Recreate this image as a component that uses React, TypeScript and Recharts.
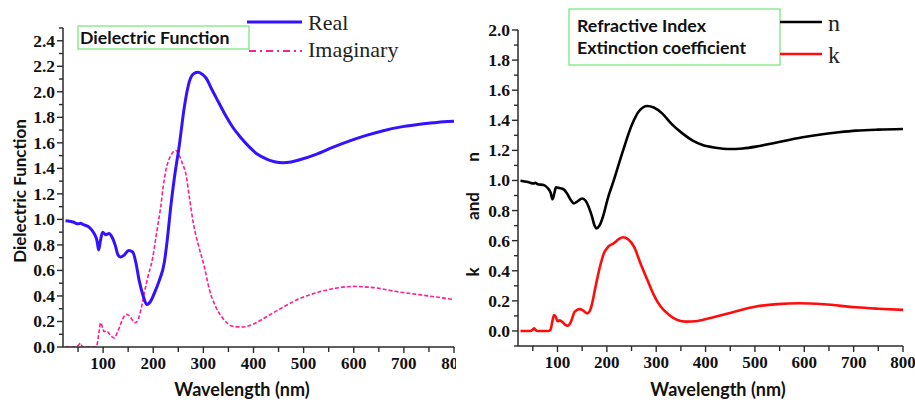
import React from 'react';
import { LineChart, Line, XAxis, YAxis } from 'recharts';

// ---------- Left panel: dielectric function ----------
const realWl = [25, 40, 50, 55, 60, 72, 82, 88, 91, 95, 99, 105, 112, 118, 124, 130, 135, 142, 151, 159, 166, 172, 180, 187, 195, 202, 212, 222, 228, 235, 242, 252, 262, 272, 282, 289, 297, 305, 318, 332, 345, 359, 375, 392, 408, 425, 442, 459, 475, 492, 525, 559, 592, 625, 659, 692, 725, 759, 780, 800];
const realVals = [0.99, 0.98, 0.965, 0.97, 0.96, 0.94, 0.89, 0.83, 0.76, 0.84, 0.9, 0.88, 0.89, 0.86, 0.8, 0.72, 0.705, 0.72, 0.757, 0.745, 0.65, 0.52, 0.4, 0.334, 0.36, 0.42, 0.52, 0.66, 0.84, 1.1, 1.32, 1.58, 1.88, 2.08, 2.145, 2.153, 2.14, 2.11, 2.01, 1.906, 1.81, 1.72, 1.64, 1.566, 1.51, 1.475, 1.452, 1.444, 1.45, 1.467, 1.51, 1.566, 1.615, 1.658, 1.695, 1.723, 1.742, 1.757, 1.765, 1.77];

const imagWl = [25, 45, 50, 55, 58, 62, 85, 88, 92, 95, 99, 102, 107, 113, 122, 128, 135, 141, 147, 152, 157, 163, 168, 172, 177, 182, 190, 199, 205, 211, 215, 220, 225, 235, 245, 252, 258, 265, 273, 280, 290, 302, 312, 325, 340, 359, 379, 400, 425, 458, 492, 525, 559, 599, 640, 692, 740, 800];
const imagVals = [0, 0, 0.01, 0.03, 0.005, 0, 0, 0.02, 0.12, 0.19, 0.15, 0.12, 0.125, 0.1, 0.07, 0.11, 0.18, 0.235, 0.256, 0.245, 0.22, 0.19, 0.2, 0.24, 0.32, 0.42, 0.56, 0.7, 0.85, 1.0, 1.1, 1.26, 1.38, 1.5, 1.54, 1.5, 1.44, 1.358, 1.149, 0.97, 0.8, 0.627, 0.45, 0.313, 0.22, 0.162, 0.157, 0.18, 0.235, 0.31, 0.379, 0.425, 0.457, 0.475, 0.465, 0.43, 0.405, 0.372];

// ---------- Right panel: n and k ----------
const nWl = [25, 40, 52, 55, 60, 72, 80, 86, 90, 94, 97, 104, 110, 114, 120, 127, 133, 140, 150, 157, 163, 170, 175, 179, 185, 194, 201, 214, 231, 252, 265, 282, 295, 312, 330, 353, 374, 394, 420, 448, 475, 502, 535, 569, 603, 637, 670, 705, 750, 800];
const nVals = [0.998, 0.99, 0.98, 0.985, 0.975, 0.97, 0.95, 0.92, 0.875, 0.92, 0.955, 0.95, 0.945, 0.937, 0.91, 0.87, 0.848, 0.86, 0.88, 0.865, 0.826, 0.76, 0.7, 0.682, 0.7, 0.78, 0.87, 1.0, 1.18, 1.38, 1.46, 1.495, 1.485, 1.446, 1.38, 1.313, 1.265, 1.236, 1.218, 1.209, 1.213, 1.225, 1.246, 1.269, 1.29, 1.307, 1.32, 1.331, 1.338, 1.342];

const kWl = [25, 45, 50, 53, 56, 60, 82, 86, 90, 93, 97, 100, 104, 110, 116, 121, 127, 135, 145, 152, 160, 165, 170, 175, 180, 187, 194, 203, 214, 224, 233, 243, 255, 268, 282, 295, 309, 325, 343, 360, 380, 407, 450, 502, 545, 590, 640, 705, 750, 800];
const kVals = [0, 0, 0.01, 0.018, 0.005, 0, 0, 0.01, 0.07, 0.106, 0.09, 0.065, 0.07, 0.06, 0.04, 0.035, 0.06, 0.128, 0.145, 0.135, 0.117, 0.13, 0.18, 0.26, 0.34, 0.44, 0.516, 0.56, 0.583, 0.61, 0.623, 0.61, 0.56, 0.45, 0.34, 0.24, 0.162, 0.11, 0.073, 0.062, 0.065, 0.084, 0.12, 0.162, 0.178, 0.184, 0.177, 0.157, 0.148, 0.14];

// ---------- Ticks ----------
const xTicks = [50, 100, 150, 200, 250, 300, 350, 400, 450, 500, 550, 600, 650, 700, 750, 800];
const leftYTicks = [0, 0.1, 0.2, 0.3, 0.4, 0.5, 0.6, 0.7, 0.8, 0.9, 1.0, 1.1, 1.2, 1.3, 1.4, 1.5, 1.6, 1.7, 1.8, 1.9, 2.0, 2.1, 2.2, 2.3, 2.4, 2.5];
const rightYTicks = [-0.1, 0, 0.1, 0.2, 0.3, 0.4, 0.5, 0.6, 0.7, 0.8, 0.9, 1.0, 1.1, 1.2, 1.3, 1.4, 1.5, 1.6, 1.7, 1.8, 1.9, 2.0];

const zip = (xs: number[], ys: number[]) => xs.map((x, i) => ({ x, y: ys[i] }));
const realData = zip(realWl, realVals);
const imagData = zip(imagWl, imagVals);
const nData = zip(nWl, nVals);
const kData = zip(kWl, kVals);

const AXIS = '#2a2a2a';
const SERIF = '"Liberation Serif", "Times New Roman", serif';
const SANS = 'Lato, "Open Sans", sans-serif';

const XTick = (props: any) => {
  const { x, y, payload } = props;
  const v = payload.value;
  const major = v % 100 === 0;
  return (
    <g>
      <line x1={x} x2={x} y1={y} y2={y + (major ? 6 : 5)} stroke={AXIS} strokeWidth={1.4} />
      {major && (
        <text x={x} y={y + 22} textAnchor="middle" fontFamily={SERIF} fontWeight="bold" fontSize={17} fill="#111">
          {v}
        </text>
      )}
    </g>
  );
};

const YTick = (props: any) => {
  const { x, y, payload } = props;
  const v = payload.value;
  const t = Math.round(v * 10);
  const major = t % 2 === 0 && t >= 0 && t <= 24;
  return (
    <g>
      <line x1={x} x2={x - (t % 2 === 0 ? 6 : 4)} y1={y} y2={y} stroke={AXIS} strokeWidth={1.4} />
      {major && (
        <text x={x - 8} y={y + 6} textAnchor="end" fontFamily={SERIF} fontWeight="bold" fontSize={17.5} fill="#111">
          {v.toFixed(1)}
        </text>
      )}
    </g>
  );
};

export default function App() {
  return (
    <div style={{ position: 'absolute', left: 0, top: 0, width: 915, height: 402, background: '#fff', overflow: 'hidden' }}>
      <div style={{ position: 'absolute', left: 0, top: 0, width: 456, height: 402, overflow: 'hidden' }}>
        <LineChart width={456} height={402} margin={{ top: 28, right: 2, bottom: 0, left: 0 }}>
          <XAxis
            dataKey="x"
            type="number"
            domain={[20, 800]}
            ticks={xTicks}
            interval={0}
            height={55}
            tickSize={0}
            tickMargin={0}
            tickLine={false}
            tick={<XTick />}
            axisLine={{ stroke: AXIS, strokeWidth: 1.5 }}
            allowDataOverflow
          />
          <YAxis
            type="number"
            domain={[0, 2.5]}
            ticks={leftYTicks}
            interval={0}
            width={63}
            tickSize={0}
            tickMargin={0}
            tickLine={false}
            tick={<YTick />}
            axisLine={{ stroke: AXIS, strokeWidth: 1.5 }}
            allowDataOverflow
          />
          <Line data={imagData} dataKey="y" type="monotone" stroke="#ff1f8e" strokeWidth={1.6} strokeDasharray="4 2" dot={false} isAnimationActive={false} />
          <Line data={realData} dataKey="y" type="monotone" stroke="#3312ff" strokeWidth={3} dot={false} isAnimationActive={false} />
        </LineChart>
      </div>
      <div style={{ position: 'absolute', left: 455, top: 0, width: 460, height: 402 }}>
        <LineChart width={460} height={402} margin={{ top: 30, right: 12, bottom: 0, left: 0 }}>
          <XAxis
            dataKey="x"
            type="number"
            domain={[20, 800]}
            ticks={xTicks}
            interval={0}
            height={56}
            tickSize={0}
            tickMargin={0}
            tickLine={false}
            tick={<XTick />}
            axisLine={{ stroke: AXIS, strokeWidth: 1.5 }}
            allowDataOverflow
          />
          <YAxis
            type="number"
            domain={[-0.1, 2.0]}
            ticks={rightYTicks}
            interval={0}
            width={63}
            tickSize={0}
            tickMargin={0}
            tickLine={false}
            tick={<YTick />}
            axisLine={{ stroke: AXIS, strokeWidth: 1.5 }}
            allowDataOverflow
          />
          <Line data={nData} dataKey="y" type="monotone" stroke="#000" strokeWidth={2.6} dot={false} isAnimationActive={false} />
          <Line data={kData} dataKey="y" type="monotone" stroke="#ff0d0d" strokeWidth={2.6} dot={false} isAnimationActive={false} />
        </LineChart>
      </div>
      <svg width={915} height={402} style={{ position: 'absolute', left: 0, top: 0, pointerEvents: 'none' }}>
        {/* left titles */}
        <text transform="translate(26,191) rotate(-90)" textAnchor="middle" fontFamily={SANS} fontWeight="bold" fontSize={17} fill="#111">
          Dielectric Function
        </text>
        <text x={242} y={396} textAnchor="middle" fontFamily={SANS} fontWeight="bold" fontSize={18} fill="#111">
          Wavelength (nm)
        </text>
        {/* left legend */}
        <rect x={78} y={26} width={171} height={23} fill="none" stroke="#6fe86f" strokeWidth={1.2} />
        <text x={80} y={44} fontFamily={SANS} fontWeight="bold" fontSize={17.7} fill="#111">Dielectric Function</text>
        <line x1={247} x2={302} y1={22} y2={22} stroke="#3312ff" strokeWidth={3} />
        <text x={308} y={30} fontFamily={SERIF} fontSize={22} fill="#222">Real</text>
        <line x1={249} x2={302} y1={51} y2={51} stroke="#ff1f8e" strokeWidth={2} strokeDasharray="7 4 2 4" />
        <text x={308} y={57} fontFamily={SERIF} fontSize={22} fill="#222">Imaginary</text>
        {/* right titles */}
        <text transform="translate(479,272) rotate(-90)" textAnchor="middle" fontFamily={SANS} fontWeight="bold" fontSize={17} fill="#111">k</text>
        <text transform="translate(479,206) rotate(-90)" textAnchor="middle" fontFamily={SANS} fontWeight="bold" fontSize={17} fill="#111">and</text>
        <text transform="translate(479,157) rotate(-90)" textAnchor="middle" fontFamily={SANS} fontWeight="bold" fontSize={17} fill="#111">n</text>
        <text x={718} y={396} textAnchor="middle" fontFamily={SANS} fontWeight="bold" fontSize={18} fill="#111">
          Wavelength (nm)
        </text>
        {/* right legend */}
        <rect x={569} y={9} width={211} height={56} fill="none" stroke="#6fe86f" strokeWidth={1.2} />
        <text x={577} y={31.5} fontFamily={SANS} fontWeight="bold" fontSize={17.8} fill="#111">Refractive Index</text>
        <text x={577} y={54} fontFamily={SANS} fontWeight="bold" fontSize={17.8} fill="#111">Extinction coefficient</text>
        <line x1={780} x2={822} y1={22} y2={22} stroke="#000" strokeWidth={2.5} />
        <text x={828} y={31} fontFamily={SERIF} fontSize={24} fill="#222">n</text>
        <line x1={780} x2={822} y1={54} y2={54} stroke="#ff0d0d" strokeWidth={2.5} />
        <text x={828} y={63} fontFamily={SERIF} fontSize={24} fill="#222">k</text>
      </svg>
    </div>
  );
}
